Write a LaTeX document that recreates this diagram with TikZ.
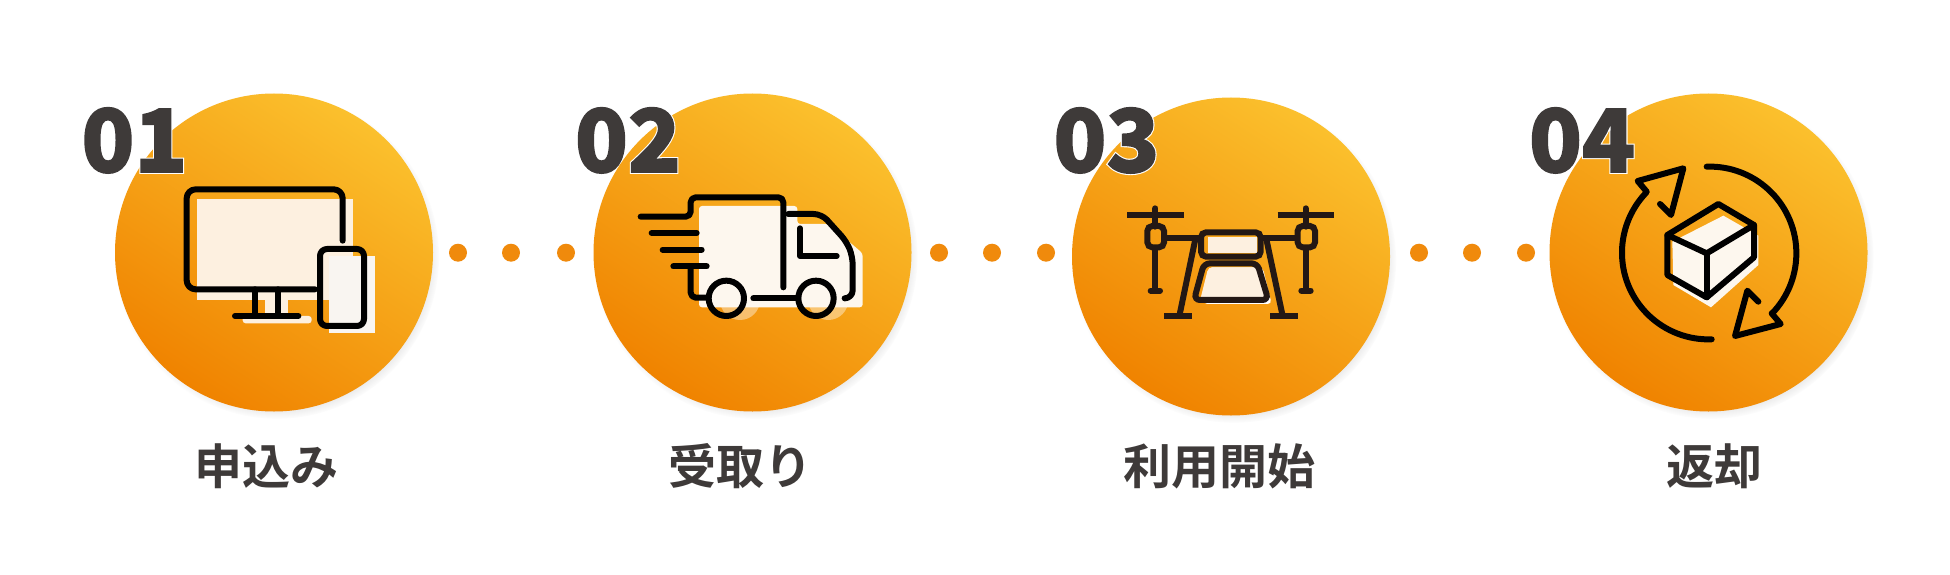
\documentclass[tikz,border=0pt]{standalone}
\usepackage{fontspec}
\usetikzlibrary{shadows}
\newfontfamily\numfont{Noto Sans CJK JP Black}
\newfontfamily\labelfont{Noto Sans CJK JP Bold}
\definecolor{inkgray}{HTML}{3E3A39}
\definecolor{inkdark}{HTML}{231815}
\definecolor{dotorange}{HTML}{F08A0C}
\definecolor{ringtop}{HTML}{FBC02D}
\definecolor{ringmid}{HTML}{F49810}
\definecolor{ringbot}{HTML}{F08300}
\definecolor{creamA}{HTML}{FDF0E0}
\definecolor{creamB}{HTML}{FDF7EE}
\definecolor{creamC}{HTML}{F9F5F1}
\newcommand{\heavy}[1]{\special{pdf:code q 2 Tr 1.6 w}#1\special{pdf:code Q}}
\newcommand{\haloed}[1]{\rlap{\special{pdf:code q 1 Tr 3.8 w 1 1 1 RG}#1\special{pdf:code Q}}\heavy{#1}}
\tikzset{
	stepdisc/.style={circle, inner sep=0pt, minimum size=318pt, top color=ringtop, middle color=ringmid, bottom color=ringbot, shading angle=-33, circular drop shadow={shadow xshift=3pt, shadow yshift=-4pt, shadow scale=1.02, opacity=.4}},
	stepdot/.style={circle, inner sep=0pt, minimum size=18pt, fill=dotorange},
	stepnum/.style={anchor=base, inner sep=0pt, text=inkgray, font=\numfont\fontsize{87pt}{87pt}\selectfont},
	steptext/.style={anchor=base, inner sep=0pt, text=inkgray, font=\labelfont\fontsize{48pt}{48pt}\selectfont},
	inkline/.style={draw=black, line width=6pt, line cap=round, line join=round},
	inkfoot/.style={draw=inkdark, line width=6pt, line cap=butt}
}
\begin{document}
\begin{tikzpicture}[x=1pt, y=-1pt]
	\useasboundingbox (0,0) rectangle (1950,575);
	\fill[white] (0,0) rectangle (1950,575);

	\node 	(disc1)		at	(274,252.5) 	[stepdisc]{};
	\node 	(disc2)		at	(752.5,252.5) 	[stepdisc]{};
	\node 	(disc3)		at	(1231,256.5) 	[stepdisc]{};
	\node 	(disc4)		at	(1708.5,252.5) 	[stepdisc]{};

	\foreach \px/\pname in {458/a,511/b,566/c,939/d,992/e,1046/f,1419/g,1472/h,1526/i}
		\node 	(dot\pname)	at	(\px,252.7) 	[stepdot]{};

	\node 	(num1)		at	(134.5,172) 	[stepnum]{\heavy{0}\haloed{1}};
	\node 	(num2)		at	(628,172) 	[stepnum]{\heavy{0}\haloed{2}};
	\node 	(num3)		at	(1106.5,172) 	[stepnum]{\heavy{0}\haloed{3}};
	\node 	(num4)		at	(1582,172) 	[stepnum]{\heavy{0}\haloed{4}};

	\node 	(text1)		at	(266.5,484) 	[steptext]{申込み};
	\node 	(text2)		at	(740,484) 	[steptext]{受取り};
	\node 	(text3)		at	(1219,484) 	[steptext]{利用開始};
	\node 	(text4)		at	(1714,484) 	[steptext]{返却};

	\begin{scope}[shift={(60,70)}, scale=1/3]
		\fill[creamA] (410,388) rectangle (880,690);
		\fill[creamA] (615,690) rectangle (685,745);
		\fill[creamA, rounded corners=3pt] (548,738) rectangle (755,760);
		\fill[creamC] (808,558) rectangle (945,790);
		\draw[inkline, rounded corners=9pt] (765,658) -- (380,658) -- (380,358) -- (848,358) -- (848,512);
		\draw[inkline] (585,658) -- (585,735);
		\draw[inkline] (655,658) -- (655,735);
		\draw[inkline] (525,738) -- (715,738);
		\draw[inkline, rounded corners=7pt] (780,537) rectangle (912,768);
	\end{scope}

	\begin{scope}[shift={(560,70)}, scale=1/3]
		\fill[white, opacity=.4] (540,690) circle (60);
		\fill[white, opacity=.4] (805,690) circle (60);
		\fill[creamB, rounded corners=3pt] (417,408) -- (712,408) -- (712,462) -- (805,462) -- (908,550) -- (908,712) -- (417,712) -- cycle;
		\draw[inkline, rounded corners=5pt] (242,440) -- (392,440) -- (392,382) -- (670,382) -- (670,652);
		\draw[inkline, rounded corners=8pt] (685,432) -- (785,432) -- (860,515) -- (878,560) -- (878,685) -- (855,685);
		\draw[inkline] (720,475) -- (720,558) -- (830,558);
		\draw[inkline] (275,489) -- (410,489);
		\draw[inkline] (308,539) -- (425,539);
		\draw[inkline] (340,589) -- (440,589);
		\draw[inkline, rounded corners=5pt] (392,595) -- (392,683) -- (445,683);
		\draw[inkline] (580,685) -- (715,685);
		\draw[inkline] (499,685) circle (53);
		\draw[inkline] (768,685) circle (53);
	\end{scope}

	\begin{scope}[shift={(1040,70)}, scale=1/3]
		\fill[creamA] (503,500) rectangle (652,550);
		\fill[white, rounded corners=4pt] (505,592) -- (668,592) -- (695,702) -- (490,702) -- cycle;
		\fill[creamA, rounded corners=4pt] (505,592) -- (658,592) -- (682,692) -- (480,692) -- cycle;
		\draw[inkfoot, line cap=round] (346,415) -- (346,470);
		\draw[inkfoot] (262,434) -- (432,434);
		\draw[inkfoot, line cap=round] (797,415) -- (797,470);
		\draw[inkfoot] (713,434) -- (883,434);
		\draw[inkfoot, rounded corners=5pt] (322,468) rectangle (372,532);
		\draw[inkfoot, rounded corners=5pt] (773,468) rectangle (825,532);
		\draw[inkfoot] (346,532) -- (346,660);
		\draw[inkfoot] (797,532) -- (797,660);
		\draw[inkfoot, line cap=round] (332,662) -- (360,662);
		\draw[inkfoot, line cap=round] (784,662) -- (812,662);
		\draw[inkfoot] (372,505) -- (480,505);
		\draw[inkfoot] (665,505) -- (773,505);
		\draw[inkfoot, rounded corners=5pt] (483,487) rectangle (662,560);
		\draw[inkfoot, rounded corners=6pt] (492,580) -- (652,580) -- (685,690) -- (462,690) -- cycle;
		\draw[inkfoot] (465,512) -- (418,738);
		\draw[inkfoot] (680,512) -- (728,738);
		\draw[inkfoot] (373,738) -- (457,738);
		\draw[inkfoot] (690,738) -- (773,738);
	\end{scope}

	\begin{scope}[shift={(1510,70)}, scale=1/3]
		\fill[creamB] (640,437) -- (745,497) -- (745,585) -- (603,712) -- (490,645) -- (487,515) -- cycle;
		\draw[inkline] (625,402) -- (732,465) -- (732,562) -- (590,682) -- (472,615) -- (472,495) -- cycle;
		\draw[inkline] (472,495) -- (590,550) -- (732,465);
		\draw[inkline] (590,550) -- (590,682);
		\draw[inkline] (590,290) arc[start angle=-92, end angle=44, radius=260];
		\draw[inkline] (785,730) -- (812,762) -- (675,798) -- (712,662) -- (745,695);
		\draw[inkline] (605,808) arc[start angle=88, end angle=224, radius=260];
		\draw[inkline] (410,365) -- (383,333) -- (520,295) -- (483,435) -- (450,402);
	\end{scope}
\end{tikzpicture}
\end{document}
